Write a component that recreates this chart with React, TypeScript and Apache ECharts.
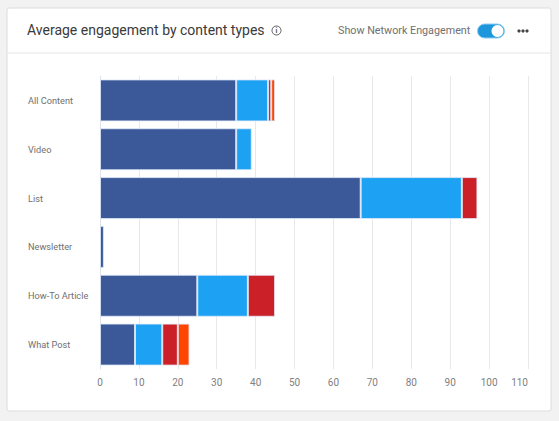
import React, { useEffect, useRef } from "react";
import * as echarts from "echarts";

const categories = ["All Content", "Video", "List", "Newsletter", "How-To Article", "What Post"];
const seriesA = [35, 35, 67, 1, 25, 9];
const seriesB = [8.2, 4, 26, null, 13, 7];
const seriesC = [0.8, null, 4, null, 7, 4];
const seriesD = [1, null, null, null, null, 3];
const colors = ["#3b5998", "#1da1f2", "#cb2027", "#ff4500"];
const titleText = "Average engagement by content types";
const toggleText = "Show Network Engagement";
const FONT = "Roboto, sans-serif";

export default function App() {
  const ref = useRef<HTMLDivElement>(null);
  useEffect(() => {
    const chart = echarts.init(ref.current!, null, { renderer: "svg" });
    const mk = (data: (number | null)[], i: number) => ({
      type: "bar",
      stack: "total",
      data,
      barWidth: 42,
      itemStyle: { color: colors[i], borderColor: "rgba(225,235,250,0.8)", borderWidth: 1 },
      z: 3,
    });
    chart.setOption({
      animation: false,
      backgroundColor: "#f2f2f2",
      grid: { left: 100, right: 31, top: 76, bottom: 52, containLabel: false },
      xAxis: {
        type: "value",
        min: 0,
        max: 110,
        interval: 10,
        axisLine: { show: false },
        axisTick: { show: false },
        splitLine: { show: true, lineStyle: { color: "#e8e8ec", width: 1 } },
        axisLabel: { color: "#808080", fontFamily: FONT, fontSize: 10, margin: 8, alignMaxLabel: "right" },
      },
      yAxis: {
        type: "category",
        inverse: true,
        data: categories,
        axisLine: { show: true, lineStyle: { color: "#dfe3ea" } },
        axisTick: { show: false },
        axisLabel: {
          color: "#707070",
          fontFamily: FONT,
          fontSize: 9.2,
          align: "left",
          margin: 72,
        },
      },
      series: [mk(seriesA, 0), mk(seriesB, 1), mk(seriesC, 2), mk(seriesD, 3)],
      graphic: [
        {
          type: "rect",
          z: -1,
          silent: true,
          shape: { x: 7, y: 8, width: 544, height: 403, r: 2 },
          style: { fill: "#fff", stroke: "#dcdcdc", lineWidth: 1, shadowBlur: 0 },
        },
        { type: "line", z: 1, shape: { x1: 7, y1: 53, x2: 551, y2: 53 }, style: { stroke: "#e6e6e6", lineWidth: 1 } },
        {
          type: "text",
          x: 27,
          y: 23,
          style: { text: titleText, fill: "#3a3a3a", font: `400 14px ${FONT}` },
        },
        { type: "circle", shape: { cx: 276.5, cy: 30.5, r: 4.5 }, style: { fill: "none", stroke: "#555", lineWidth: 1 } },
        {
          type: "text",
          x: 276.5,
          y: 30.5,
          style: { text: "i", fill: "#555", font: `700 7px ${FONT}`, align: "center", verticalAlign: "middle" },
        },
        {
          type: "text",
          x: 338,
          y: 25,
          style: { text: toggleText, fill: "#707070", font: `400 10.75px ${FONT}` },
        },
        { type: "rect", shape: { x: 477.5, y: 24, width: 27, height: 14, r: 7 }, style: { fill: "#1e96dc", stroke: "#8ccdf0", lineWidth: 1 } },
        { type: "circle", shape: { cx: 497.5, cy: 31, r: 6 }, style: { fill: "#fff" } },
        { type: "circle", shape: { cx: 519, cy: 31, r: 1.6 }, style: { fill: "#444" } },
        { type: "circle", shape: { cx: 523, cy: 31, r: 1.6 }, style: { fill: "#444" } },
        { type: "circle", shape: { cx: 527, cy: 31, r: 1.6 }, style: { fill: "#444" } },
      ],
    });
    return () => chart.dispose();
  }, []);
  return <div ref={ref} style={{ width: 559, height: 421, position: "absolute", left: 0, top: 0 }} />;
}
